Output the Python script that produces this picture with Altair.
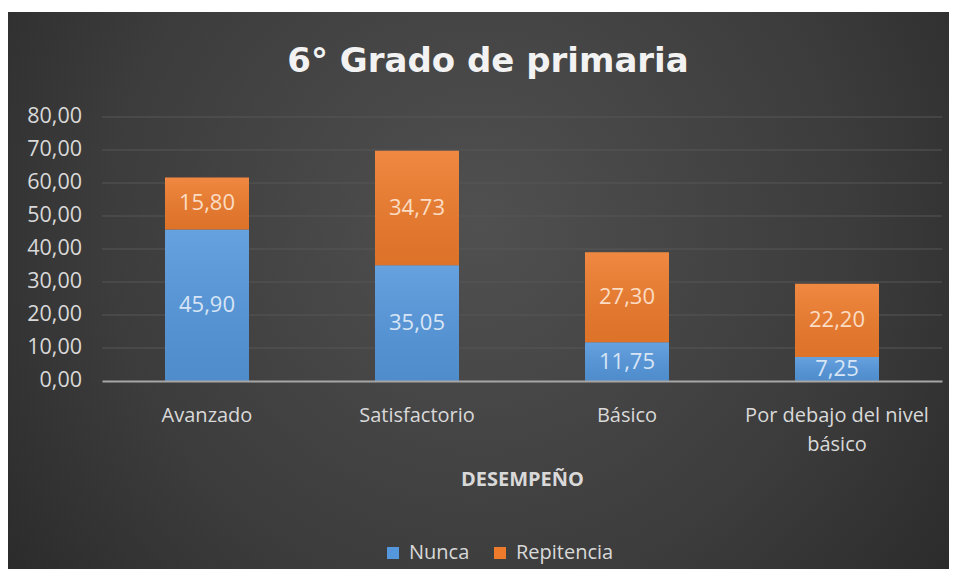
import altair as alt
import pandas as pd

categories = ["Avanzado", "Satisfactorio", "Básico", "Por debajo del nivel básico"]
series_names = ["Nunca", "Repitencia"]
nunca = [45.90, 35.05, 11.75, 7.25]
repitencia = [15.80, 34.73, 27.30, 22.20]
y_ticks = [0, 10, 20, 30, 40, 50, 60, 70, 80]

bar_colors = ["#5597dc", "#ee7b2c"]
label_colors = ["#d7e5f5", "#fbdcc4"]

rows = []
for i, c in enumerate(categories):
    for k, vals in enumerate([nunca, repitencia]):
        rows.append({"cat": c, "series": series_names[k], "value": vals[i], "ord": k})
df = pd.DataFrame(rows)

FONT = "Open Sans"
W, H = 840, 264
PAD = {"left": 94, "top": 109, "right": 7, "bottom": 188}
y_scale = alt.Scale(domain=[0, 80])

bg = alt.Chart(pd.DataFrame({"a": [0]})).mark_rect(
    clip=False,
    fill={
        "gradient": "radial",
        "x1": 0.5, "y1": 0.43, "x2": 0.5, "y2": 0.43, "r1": 0, "r2": 0.72,
        "stops": [
            {"offset": 0, "color": "#505050"},
            {"offset": 0.55, "color": "#3c3c3c"},
            {"offset": 1, "color": "#242424"},
        ],
    },
).encode(
    x=alt.value(-PAD["left"]), x2=alt.value(W + PAD["right"]),
    y=alt.value(-PAD["top"] + 4), y2=alt.value(H + PAD["bottom"]),
)

tick_df = pd.DataFrame({"tick": y_ticks})

grid = alt.Chart(tick_df).transform_filter("datum.tick > 0").mark_rule(
    color="#575757", strokeWidth=1
).encode(
    y=alt.Y("tick:Q", scale=y_scale, axis=None),
    x=alt.value(0), x2=alt.value(W),
)

ylabels = alt.Chart(tick_df).mark_text(
    font=FONT, fontSize=21.5, color="#d9d9d9", align="right", baseline="middle"
).encode(
    y=alt.Y("tick:Q", scale=y_scale, axis=None),
    x=alt.value(-20),
    text=alt.Text("tick:Q", format=".2f"),
)

base = alt.Chart(df).transform_stack(
    stack="value", groupby=["cat"], as_=["v0", "v1"],
    sort=[alt.SortField("ord", order="ascending")],
).transform_calculate(mid="(datum.v0 + datum.v1) / 2")

x_enc = alt.X(
    "cat:N", sort=categories,
    scale=alt.Scale(paddingInner=0.6, paddingOuter=0.3),
    axis=alt.Axis(
        title="DESEMPEÑO", labelAngle=0, labelFont=FONT, labelFontSize=20,
        labelColor="#d9d9d9", labelPadding=24, labelLineHeight=29,
        labelLimit=400,
        labelExpr="datum.label == 'Por debajo del nivel básico' ? ['Por debajo del nivel', 'básico'] : datum.label",
        ticks=False, domainColor="#a6a6a6", domainWidth=2,
        titleFont=FONT, titleFontSize=20, titleFontWeight="bold",
        titleColor="#d9d9d9", titlePadding=15, zindex=1, grid=False,
    ),
)

bars = base.mark_bar().encode(
    x=x_enc,
    y=alt.Y("v0:Q", scale=y_scale, axis=None),
    y2="v1:Q",
    color=alt.Color(
        "series:N", scale=alt.Scale(domain=series_names, range=bar_colors),
        legend=alt.Legend(
            title=None, orient="none", legendX=281, legendY=426,
            direction="horizontal", symbolType="square", symbolSize=144,
            symbolStrokeWidth=0, labelFont=FONT, labelFontSize=20,
            labelColor="#d9d9d9", columnPadding=20, labelOffset=6,
            padding=0, zindex=1,
        ),
    ),
)

shade = base.mark_bar(
    fill={
        "gradient": "linear", "x1": 0, "y1": 0, "x2": 0, "y2": 1,
        "stops": [
            {"offset": 0, "color": "rgba(255,255,255,0.10)"},
            {"offset": 1, "color": "rgba(0,0,0,0.07)"},
        ],
    }
).encode(x=alt.X("cat:N", sort=categories), y="v0:Q", y2="v1:Q")

labels = base.mark_text(font=FONT, fontSize=22, baseline="middle").encode(
    x=alt.X("cat:N", sort=categories),
    y="mid:Q",
    text=alt.Text("value:Q", format=".2f"),
    color=alt.Color(
        "series:N", scale=alt.Scale(domain=series_names, range=label_colors),
        legend=None,
    ),
)

chart = alt.layer(bg, grid, ylabels, bars, shade, labels).resolve_scale(
    color="independent"
).properties(
    width=W, height=H, padding=PAD,
    autosize=alt.AutoSizeParams(type="none"),
    background="white",
    title=alt.Title(
        text="6° Grado de primaria", font="DejaVu Sans", fontSize=34,
        fontWeight="bold", color="#f2f2f2", anchor="middle", dx=-34,
        baseline="alphabetic", offset=0, dy=94, zindex=1,
    ),
).configure(
    locale={"number": {"decimal": ",", "thousands": ".", "grouping": [3],
                       "currency": ["", " €"]}}
).configure_view(stroke=None)

chart.save("out.html", embed_options={"renderer": "svg", "actions": False})
